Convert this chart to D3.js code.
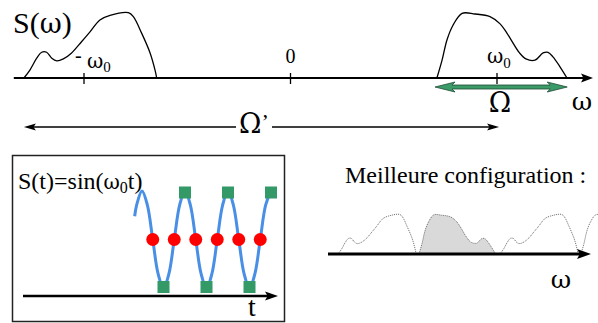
<!DOCTYPE html>
<html><head><meta charset="utf-8">
<script src="https://cdn.jsdelivr.net/npm/d3@7"></script>
<style>
body{margin:0;background:#fff}
svg{display:block}
text{font-family:"Liberation Serif","DejaVu Serif","Times New Roman",serif;fill:#000}
.gk{font-family:"DejaVu Serif","Liberation Serif",serif}
</style>
</head><body>
<svg id="c" width="598" height="323"></svg>
<script>
// ---------------- data ----------------
// spectrum S(omega): omega in units of omega0, amplitude normalised
const axisExtent = [-1.34, 1.465];
const tickValues = [-1, 0, 1];
const tickLabels = ["-ω", "0", "ω"];
const tickSubs = ["0", "", "0"];

const leftSpecW = [-1.291, -1.262, -1.229, -1.205, -1.181, -1.156, -1.132, -1.100, -1.060, -1.012, -0.971, -0.923, -0.874, -0.785, -0.761, -0.721, -0.680, -0.656, -0.648];
const leftSpecA = [0, 0.12, 0.30, 0.39, 0.39, 0.30, 0.26, 0.29, 0.38, 0.55, 0.70, 0.88, 0.95, 0.99, 0.93, 0.68, 0.38, 0.12, 0];

const rightSpecW = [0.709, 0.734, 0.758, 0.787, 0.831, 0.893, 0.966, 1.015, 1.048, 1.109, 1.140, 1.184, 1.223, 1.247, 1.271, 1.305, 1.339];
const rightSpecA = [0, 0.27, 0.58, 0.80, 0.98, 0.97, 0.93, 0.82, 0.68, 0.38, 0.29, 0.27, 0.38, 0.39, 0.32, 0.17, 0];

const omegaBand = [0.70, 1.34];        // green arrow  (Ω)
const omegaPrimeBand = [-1.291, 1.01]; // black arrow (Ω')

// sampled signal S(t)=sin(ω0 t): t in periods
const waveT = [-0.17, -0.125, 0, 0.125, 0.25, 0.375, 0.5, 0.625, 0.75, 0.875, 1, 1.125, 1.25, 1.375, 1.5, 1.625, 1.75, 1.875, 2, 2.125, 2.25, 2.375, 2.5, 2.625, 2.75, 2.875, 3];
const waveS = [0.48, 0.71, 1, 0.71, 0, -0.71, -1, -0.71, 0, 0.71, 1, 0.71, 0, -0.71, -1, -0.71, 0, 0.71, 1, 0.71, 0, -0.71, -1, -0.71, 0, 0.71, 1];
const crossT = [0.25, 0.75, 1.25, 1.75, 2.25, 2.75];
const crossS = [0, 0, 0, 0, 0, 0];
const sampleT = [0.5, 1, 1.5, 2, 2.5, 3];
const sampleS = [-1, 1, -1, 1, -1, 1];

// aliased spectrum ("Meilleure configuration")
const aliasPeriod = 1.333;
const aliasShifts = [-1, 0, 1];
const filledShift = -1; // right lobe of this copy is shaded

// ---------------- drawing ----------------
const svg = d3.select("#c");
svg.append("rect").attr("width", 598).attr("height", 323).attr("fill", "#fff");

function head(g, tipX, tipY, dir, len, hw, fill) {
  g.append("path")
    .attr("d", `M${tipX},${tipY}L${tipX - dir*len},${tipY - hw}L${tipX - dir*len*0.8},${tipY}L${tipX - dir*len},${tipY + hw}Z`)
    .attr("fill", fill);
}

// ---- top spectrum ----
const x = d3.scaleLinear().domain([-1, 1]).range([84, 497]);
const yA = d3.scaleLinear().domain([0, 1]).range([78, 12]);
const tg = svg.append("g");

const ax0 = x(axisExtent[0]), ax1 = x(axisExtent[1]);
tg.append("line").attr("x1", ax0).attr("x2", ax1 - 8).attr("y1", yA(0)).attr("y2", yA(0))
  .attr("stroke", "#000").attr("stroke-width", 2);
head(tg, ax1, yA(0), 1, 12, 4.5, "#000");

tg.selectAll("line.tick").data(tickValues).join("line").attr("class", "tick")
  .attr("x1", d => x(d)).attr("x2", d => x(d)).attr("y1", yA(0) - 5).attr("y2", yA(0) + 6)
  .attr("stroke", "#000").attr("stroke-width", 1.3);

const line = d3.line().x(d => x(d[0])).y(d => yA(d[1])).curve(d3.curveCatmullRom);
tg.append("path").attr("d", line(leftSpecW.map((w, i) => [w, leftSpecA[i]])))
  .attr("fill", "none").attr("stroke", "#000").attr("stroke-width", 1.3);
tg.append("path").attr("d", line(rightSpecW.map((w, i) => [w, rightSpecA[i]])))
  .attr("fill", "none").attr("stroke", "#000").attr("stroke-width", 1.3);

// tick labels
tg.append("text").attr("x", x(-1) - 9).attr("y", 62).attr("font-size", 20).text("-");
const lm = tg.append("text").attr("x", x(-1) + 3).attr("y", 68).attr("font-size", 20);
lm.append("tspan").attr("class", "gk").text(tickLabels[0].slice(1));
lm.append("tspan").attr("font-size", 15).attr("dy", 4).text(tickSubs[0]);
tg.append("text").attr("x", x(0)).attr("y", 63).attr("font-size", 20).attr("text-anchor", "middle").text(tickLabels[1]);
const rm = tg.append("text").attr("x", x(1) - 10).attr("y", 63).attr("font-size", 20);
rm.append("tspan").attr("class", "gk").text(tickLabels[2]);
rm.append("tspan").attr("font-size", 15).attr("dy", 5).text(tickSubs[2]);

const sw0 = tg.append("text").attr("x", 13).attr("y", 33).attr("font-size", 30);
sw0.append("tspan").text("S(");
sw0.append("tspan").attr("class", "gk").attr("font-size", 27).text("ω");
sw0.append("tspan").text(")");
tg.append("text").attr("class", "gk").attr("x", 582).attr("y", 110).attr("font-size", 25).attr("text-anchor", "middle").text("ω");

// green Ω arrow
const gx0 = x(omegaBand[0]), gx1 = x(omegaBand[1]), gy = 87, hl = 20, hw = 5, sw = 2;
tg.append("path")
  .attr("d", `M${gx0},${gy}L${gx0 + hl},${gy - hw}L${gx0 + hl - 3},${gy - sw}L${gx1 - hl + 3},${gy - sw}L${gx1 - hl},${gy - hw}L${gx1},${gy}L${gx1 - hl},${gy + hw}L${gx1 - hl + 3},${gy + sw}L${gx0 + hl - 3},${gy + sw}L${gx0 + hl},${gy + hw}Z`)
  .attr("fill", "#3a9a68").attr("stroke", "#1f4a34").attr("stroke-width", 0.8);
tg.append("text").attr("class", "gk").attr("x", (x(1) + 3)).attr("y", 112).attr("font-size", 27).attr("text-anchor", "middle").text("Ω");

// Ω' arrow
const px0 = x(omegaPrimeBand[0]), px1 = x(omegaPrimeBand[1]), py = 127;
tg.append("line").attr("x1", px0 + 8).attr("x2", 236).attr("y1", py).attr("y2", py).attr("stroke", "#000").attr("stroke-width", 1.3);
tg.append("line").attr("x1", 272).attr("x2", px1 - 8).attr("y1", py).attr("y2", py).attr("stroke", "#000").attr("stroke-width", 1.3);
head(tg, px0, py, -1, 12, 3.5, "#000");
head(tg, px1, py, 1, 12, 3.5, "#000");
const op = tg.append("text").attr("x", 239).attr("y", 133).attr("font-size", 27);
op.append("tspan").attr("class", "gk").text("Ω");
op.append("tspan").attr("font-size", 22).attr("dy", -4).text("’");

// ---- bottom-left panel ----
const bl = svg.append("g");
bl.append("rect").attr("x", 12.5).attr("y", 155.5).attr("width", 272).attr("height", 166)
  .attr("fill", "none").attr("stroke", "#222").attr("stroke-width", 1.5);
const st = bl.append("text").attr("x", 18).attr("y", 189).attr("font-size", 24);
st.append("tspan").text("S(t)=sin(");
st.append("tspan").attr("class", "gk").attr("font-size", 20).text("ω");
st.append("tspan").attr("font-size", 16).attr("dy", 4).text("0");
st.append("tspan").attr("dy", -4).text("t)");

bl.append("line").attr("x1", 23).attr("x2", 268).attr("y1", 296).attr("y2", 296).attr("stroke", "#000").attr("stroke-width", 2.5);
head(bl, 278, 296, 1, 13, 4.5, "#000");
bl.append("text").attr("x", 252).attr("y", 316).attr("font-size", 28).attr("text-anchor", "middle").text("t");

const tX = d3.scaleLinear().domain([0, 3]).range([142, 271]);
const sY = d3.scaleLinear().domain([-1, 1]).range([288, 191]);
bl.append("path").attr("d", d3.line().x(d => tX(d[0])).y(d => sY(d[1])).curve(d3.curveCatmullRom)(waveT.map((t, i) => [t, waveS[i]])))
  .attr("fill", "none").attr("stroke", "#4a8fe6").attr("stroke-width", 3);
bl.selectAll("circle").data(crossT.map((t, i) => [t, crossS[i]])).join("circle")
  .attr("cx", d => tX(d[0])).attr("cy", d => sY(d[1])).attr("r", 6.5).attr("fill", "#f00");
bl.selectAll("rect.s").data(sampleT.map((t, i) => [t, sampleS[i]])).join("rect").attr("class", "s")
  .attr("x", d => tX(d[0]) - 6).attr("y", d => sY(d[1]) - 6 + (d[1] > 0 ? 1.5 : -1)).attr("width", 12).attr("height", 12).attr("fill", "#339966");

// ---- bottom-right panel ----
const br = svg.append("g");
br.append("text").attr("x", 345).attr("y", 183).attr("font-size", 24).text("Meilleure configuration :");
const mX = d3.scaleLinear().domain([-1.291, -0.291]).range([338, 459.5]);
const mY = d3.scaleLinear().domain([0, 1]).range([254, 214]);
svg.append("defs").append("clipPath").attr("id", "mc").append("rect").attr("x", 334).attr("y", 150).attr("width", 264).attr("height", 110);
const mg = br.append("g").attr("clip-path", "url(#mc)");
const mline = k => d3.line().x(d => mX(d[0] + k * aliasPeriod)).y(d => mY(d[1])).curve(d3.curveCatmullRom);
aliasShifts.forEach(k => {
  const lp = leftSpecW.map((w, i) => [w, leftSpecA[i]]);
  const rp = rightSpecW.map((w, i) => [w, rightSpecA[i]]);
  if (k === filledShift) {
    mg.append("path").attr("d", mline(k)(rp)).attr("fill", "#d9d9d9").attr("stroke", "none");
  }
  [lp, rp].forEach(p => {
    mg.append("path").attr("d", mline(k)(p)).attr("fill", "none").attr("stroke", "#666")
      .attr("stroke-width", 1).attr("stroke-dasharray", "1,1");
  });
});
br.append("line").attr("x1", 328).attr("x2", 580).attr("y1", 254).attr("y2", 254).attr("stroke", "#000").attr("stroke-width", 3);
head(br, 591, 254, 1, 14, 5, "#000");
br.append("text").attr("class", "gk").attr("x", 561).attr("y", 288).attr("font-size", 25).attr("text-anchor", "middle").text("ω");
</script>
</body></html>
